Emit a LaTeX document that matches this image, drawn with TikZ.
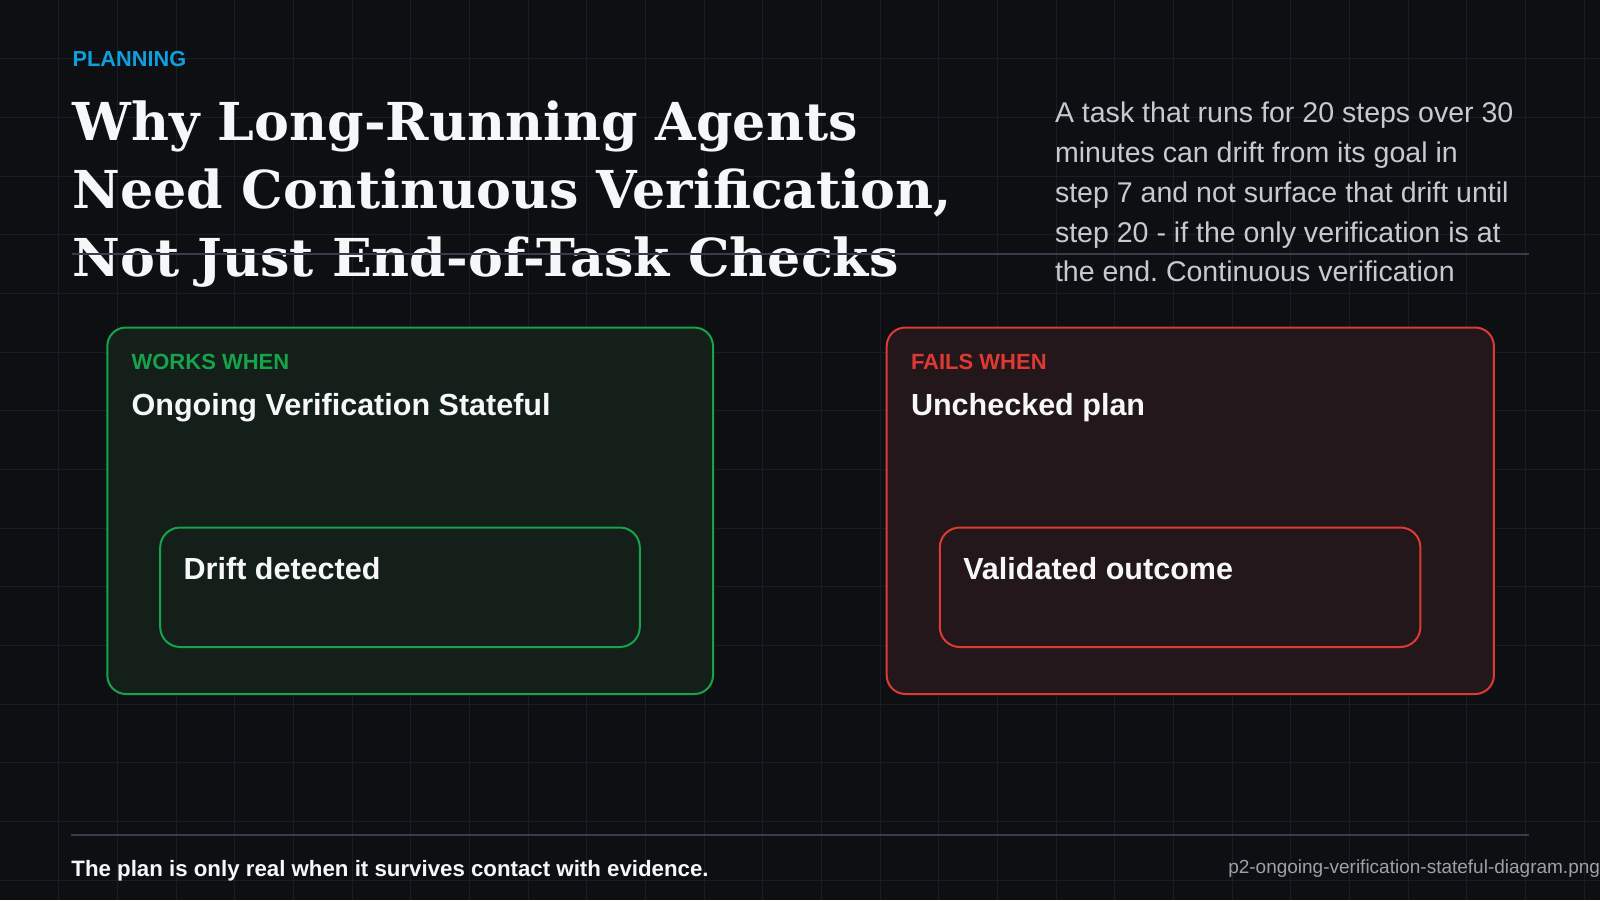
\documentclass[tikz,border=0pt]{standalone}
\usepackage{fontspec}
\setmainfont{Liberation Sans}
\newfontfamily\headfont{DejaVu Serif}
\usetikzlibrary{positioning}

\definecolor{bgc}{HTML}{0E0F12}
\definecolor{gridc}{HTML}{1A1D23}
\definecolor{rulec}{HTML}{363E4B}
\definecolor{skyc}{HTML}{0EA0DE}
\definecolor{okc}{HTML}{16A34A}
\definecolor{okfill}{HTML}{141F1A}
\definecolor{badc}{HTML}{DC3A33}
\definecolor{badfill}{HTML}{23171B}
\definecolor{bodyc}{HTML}{C6CAD1}
\definecolor{mutedc}{HTML}{9CA1A9}
\definecolor{inkc}{HTML}{F6F7F9}

\newcommand{\fsize}[1]{\fontsize{#1}{1.2\dimexpr#1\relax}\selectfont}
\frenchspacing

\begin{document}
\begin{tikzpicture}[x=0.75pt,y=-0.75pt,
    txt/.style={anchor=base west,inner sep=0pt,outer sep=0pt},
    kicker/.style={txt,text=skyc,font=\fsize{16.3pt}\bfseries},
    headline/.style={txt,text=inkc,font=\fsize{39.2pt}\headfont\bfseries},
    body/.style={txt,text=bodyc,font=\fsize{21.4pt}},
    tag/.style={txt,font=\fsize{16.5pt}\bfseries},
    heading/.style={txt,text=inkc,font=\fsize{22.9pt}\bfseries},
    card/.style={line width=1.5pt,rounded corners=14pt},
    chip/.style={line width=1.5pt,rounded corners=15pt},
    hrule/.style={rulec,line width=1.5pt}]

  \fill[bgc] (0,0) rectangle (1600,900);
  \useasboundingbox (0,0) rectangle (1600,900);
  \foreach \i in {1,...,27}{
    \pgfmathsetmacro{\gx}{int(\i*58.667)+0.5}
    \draw[gridc,line width=0.75pt] (\gx,0) -- (\gx,900);}
  \foreach \j in {1,...,15}{
    \pgfmathsetmacro{\gy}{int(\j*58.667)+0.5}
    \draw[gridc,line width=0.75pt] (0,\gy) -- (1600,\gy);}

  % header
  \node[kicker] (kick) at (72.7,66.3) {PLANNING};
  \node[headline] (t1) at (72.7,140) {Why Long-Running Agents};
  \node[headline] (t2) at (72.7,208.3) {Need Continuous Verification,};
  \node[headline] (t3) at (72.7,276.7) {Not Just End-of-Task Checks};
  \foreach \ln [count=\k from 0] in {A task that runs for 20 steps over 30,
      minutes can drift from its goal in,
      step 7 and not surface that drift until,
      step 20 - if the only verification is at,
      the end. Continuous verification}
    \node[body] (p\k) at (1055,122.7+\k*39.8) {\ln};
  \coordinate (ra) at (71.7,254);
  \coordinate (rb) at (1528.6,254);
  \draw[hrule] (ra) -- (rb);

  % works when
  \draw[card,okc,fill=okfill] (107.3,327.5) rectangle (713,694);
  \node[tag,text=okc] (wlab) at (131.6,369) {WORKS WHEN};
  \node[heading] (whead) at (131.6,415.5) {Ongoing Verification Stateful};
  \draw[chip,okc] (160.2,527.5) rectangle (639.8,647);
  \node[heading] (wchip) at (183.7,579) {Drift detected};

  % fails when
  \draw[card,badc,fill=badfill] (886.7,327.5) rectangle (1493.9,694);
  \node[tag,text=badc] (flab) at (911,369) {FAILS WHEN};
  \node[heading] (fhead) at (911,415.5) {Unchecked plan};
  \draw[chip,badc] (939.8,527.5) rectangle (1420.4,647);
  \node[heading] (fchip) at (963.3,579) {Validated outcome};

  % footer
  \coordinate (fa) at (71.4,835);
  \coordinate (fb) at (1528.6,835);
  \draw[hrule] (fa) -- (fb);
  \node[txt,text=inkc,font=\fsize{16.7pt}\bfseries] (quote) at (71.4,876.5)
    {The plan is only real when it survives contact with evidence.};
  \node[txt,anchor=base east,text=mutedc,font=\fsize{14.25pt}] (fname) at (1600,873.3)
    {p2-ongoing-verification-stateful-diagram.png};
\end{tikzpicture}
\end{document}
